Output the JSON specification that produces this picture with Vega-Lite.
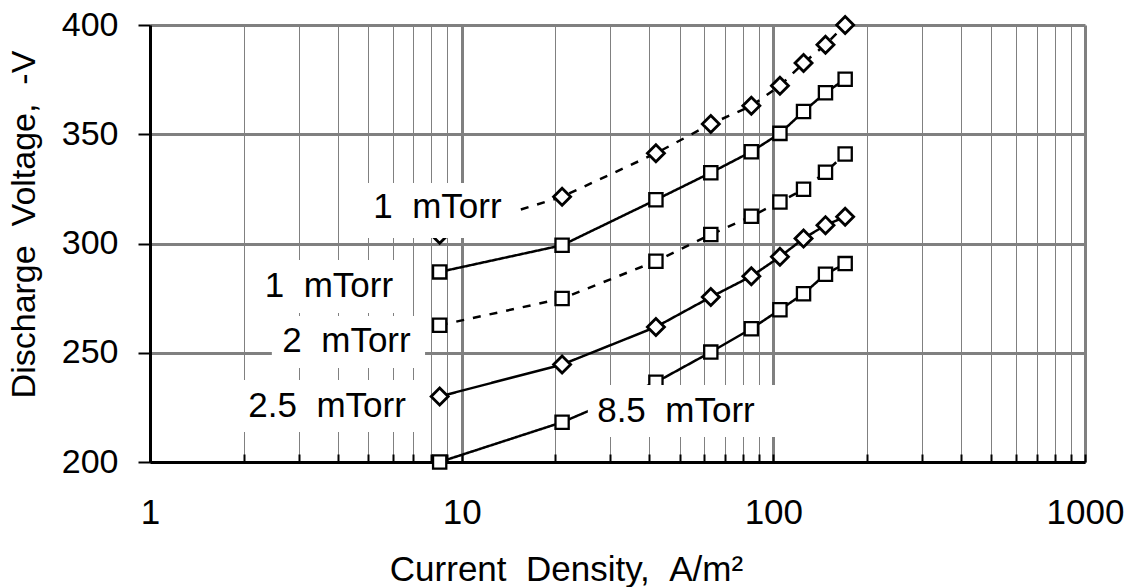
{
  "$schema": "https://vega.github.io/schema/vega-lite/v6.json",
  "width": 935,
  "height": 437,
  "autosize": {"type": "none"},
  "padding": {"left": 150, "top": 25, "right": 47, "bottom": 125},
  "background": "white",
  "config": {
    "view": {"stroke": null},
    "font": "Liberation Sans",
    "axis": {"labelColor": "black", "titleColor": "black", "titleFontWeight": "normal", "labelFont": "Liberation Sans", "titleFont": "Liberation Sans"}
  },
  "datasets": {
    "series": [
      {"series": "1 mTorr run A", "density": 8.5, "voltage": 304},
      {"series": "1 mTorr run A", "density": 21, "voltage": 321.4},
      {"series": "1 mTorr run A", "density": 42, "voltage": 341.3},
      {"series": "1 mTorr run A", "density": 63, "voltage": 354.7},
      {"series": "1 mTorr run A", "density": 85, "voltage": 363},
      {"series": "1 mTorr run A", "density": 105, "voltage": 372.2},
      {"series": "1 mTorr run A", "density": 125, "voltage": 382.6},
      {"series": "1 mTorr run A", "density": 147, "voltage": 391},
      {"series": "1 mTorr run A", "density": 170, "voltage": 400},
      {"series": "1 mTorr run B", "density": 8.5, "voltage": 287},
      {"series": "1 mTorr run B", "density": 21, "voltage": 299.2},
      {"series": "1 mTorr run B", "density": 42, "voltage": 320},
      {"series": "1 mTorr run B", "density": 63, "voltage": 332.4},
      {"series": "1 mTorr run B", "density": 85, "voltage": 342},
      {"series": "1 mTorr run B", "density": 105, "voltage": 350.4},
      {"series": "1 mTorr run B", "density": 125, "voltage": 360.4},
      {"series": "1 mTorr run B", "density": 147, "voltage": 369},
      {"series": "1 mTorr run B", "density": 170, "voltage": 375.2},
      {"series": "2 mTorr", "density": 8.5, "voltage": 262.6},
      {"series": "2 mTorr", "density": 21, "voltage": 274.8},
      {"series": "2 mTorr", "density": 42, "voltage": 291.9},
      {"series": "2 mTorr", "density": 63, "voltage": 304.1},
      {"series": "2 mTorr", "density": 85, "voltage": 312.5},
      {"series": "2 mTorr", "density": 105, "voltage": 319},
      {"series": "2 mTorr", "density": 125, "voltage": 324.8},
      {"series": "2 mTorr", "density": 147, "voltage": 332.6},
      {"series": "2 mTorr", "density": 170, "voltage": 341},
      {"series": "2.5 mTorr", "density": 8.5, "voltage": 230},
      {"series": "2.5 mTorr", "density": 21, "voltage": 244.6},
      {"series": "2.5 mTorr", "density": 42, "voltage": 261.8},
      {"series": "2.5 mTorr", "density": 63, "voltage": 275.5},
      {"series": "2.5 mTorr", "density": 85, "voltage": 285},
      {"series": "2.5 mTorr", "density": 105, "voltage": 293.9},
      {"series": "2.5 mTorr", "density": 125, "voltage": 302.3},
      {"series": "2.5 mTorr", "density": 147, "voltage": 308.4},
      {"series": "2.5 mTorr", "density": 170, "voltage": 312.2},
      {"series": "8.5 mTorr", "density": 8.5, "voltage": 200},
      {"series": "8.5 mTorr", "density": 21, "voltage": 218.2},
      {"series": "8.5 mTorr", "density": 42, "voltage": 236.5},
      {"series": "8.5 mTorr", "density": 63, "voltage": 250.3},
      {"series": "8.5 mTorr", "density": 85, "voltage": 261},
      {"series": "8.5 mTorr", "density": 105, "voltage": 269.7},
      {"series": "8.5 mTorr", "density": 125, "voltage": 277},
      {"series": "8.5 mTorr", "density": 147, "voltage": 285.9},
      {"series": "8.5 mTorr", "density": 170, "voltage": 290.8}
    ],
    "labels": [
      {"label": "1 \u00a0mTorr", "tx": 8.36, "ty": 311.5, "bx1": 4.79, "bx2": 14.8, "by1": 302.5, "by2": 327.7},
      {"label": "1 \u00a0mTorr", "tx": 3.75, "ty": 275.7, "bx1": 2.17, "bx2": 6.83, "by1": 268.2, "by2": 292.4},
      {"label": "2 \u00a0mTorr", "tx": 4.27, "ty": 250.2, "bx1": 2.46, "bx2": 7.63, "by1": 243.0, "by2": 266.8},
      {"label": "2.5 \u00a0mTorr", "tx": 3.70, "ty": 220.7, "bx1": 1.92, "bx2": 7.35, "by1": 213.7, "by2": 237.5},
      {"label": "8.5 \u00a0mTorr", "tx": 48.7, "ty": 218.4, "bx1": 25.4, "bx2": 108.9, "by1": 211.4, "by2": 235.2}
    ]
  },
  "layer": [
    {
      "data": {"name": "series"},
      "mark": {"type": "line", "color": "black", "strokeWidth": 2.5},
      "encoding": {
        "x": {
          "field": "density", "type": "quantitative",
          "title": "Current \u00a0Density, \u00a0A/m²",
          "scale": {"type": "log", "domain": [1, 1000], "nice": false},
          "axis": {
            "title": "Current \u00a0Density, \u00a0A/m²",
            "titleFontSize": 35,
            "titleX": 416, "titleY": 118, "titleAlign": "center", "titleBaseline": "alphabetic", "titleAnchor": null,
            "values": [1,2,3,4,5,6,7,8,9,10,20,30,40,50,60,70,80,90,100,200,300,400,500,600,700,800,900,1000],
            "labelExpr": "indexof([1,10,100,1000], datum.value) >= 0 ? format(datum.value, 'd') : ''",
            "labelFlush": false, "labelOverlap": false,
            "labelFontSize": 35, "labelBaseline": "alphabetic", "labelPadding": 69,
            "grid": true, "gridColor": "#808080",
            "gridWidth": {"condition": {"test": "datum.value == 10 || datum.value == 100 || datum.value == 1000", "value": 3}, "value": 1},
            "domainColor": "black", "domainWidth": 3,
            "ticks": true, "tickColor": "black", "tickSize": -8, "tickWidth": 2
          }
        },
        "y": {
          "field": "voltage", "type": "quantitative",
          "title": "Discharge \u00a0Voltage, \u00a0-V",
          "scale": {"domain": [200, 400], "nice": false, "zero": false},
          "axis": {
            "title": "Discharge \u00a0Voltage, \u00a0-V",
            "titleFontSize": 34,
            "titleX": -116, "titleY": 199, "titleAngle": -90, "titleAlign": "center", "titleBaseline": "alphabetic", "titleAnchor": null,
            "values": [200, 250, 300, 350, 400],
            "labelFontSize": 34, "labelPadding": 20,
            "grid": true, "gridColor": "#808080", "gridWidth": 3,
            "domainColor": "black", "domainWidth": 3,
            "tickColor": "black", "tickSize": 12, "tickWidth": 2
          }
        },
        "strokeDash": {
          "field": "series", "type": "nominal", "legend": null,
          "scale": {"domain": ["1 mTorr run A", "1 mTorr run B", "2 mTorr", "2.5 mTorr", "8.5 mTorr"], "range": [[8, 9], [1, 0], [8, 9], [1, 0], [1, 0]]}
        }
      }
    },
    {
      "data": {"name": "series"},
      "transform": [{"filter": "datum.series == '1 mTorr run A' || datum.series == '2.5 mTorr'"}],
      "mark": {"type": "point", "shape": "diamond", "size": 290, "filled": true, "fill": "white", "stroke": "black", "strokeWidth": 2.8, "opacity": 1, "clip": false},
      "encoding": {
        "x": {"field": "density", "type": "quantitative", "title": "Current \u00a0Density, \u00a0A/m²"},
        "y": {"field": "voltage", "type": "quantitative", "title": "Discharge \u00a0Voltage, \u00a0-V"}
      }
    },
    {
      "data": {"name": "series"},
      "transform": [{"filter": "datum.series != '1 mTorr run A' && datum.series != '2.5 mTorr'"}],
      "mark": {"type": "point", "shape": "square", "size": 175, "filled": true, "fill": "white", "stroke": "black", "strokeWidth": 2.3, "opacity": 1, "clip": false},
      "encoding": {
        "x": {"field": "density", "type": "quantitative", "title": "Current \u00a0Density, \u00a0A/m²"},
        "y": {"field": "voltage", "type": "quantitative", "title": "Discharge \u00a0Voltage, \u00a0-V"}
      }
    },
    {
      "data": {"name": "labels"},
      "mark": {"type": "rect", "fill": "white"},
      "encoding": {
        "x": {"field": "bx1", "type": "quantitative", "title": "Current \u00a0Density, \u00a0A/m²"},
        "x2": {"field": "bx2"},
        "y": {"field": "by1", "type": "quantitative", "title": "Discharge \u00a0Voltage, \u00a0-V"},
        "y2": {"field": "by2"}
      }
    },
    {
      "data": {"name": "labels"},
      "mark": {"type": "text", "font": "Liberation Sans", "fontSize": 35, "baseline": "alphabetic", "align": "center", "color": "black"},
      "encoding": {
        "x": {"field": "tx", "type": "quantitative", "title": "Current \u00a0Density, \u00a0A/m²"},
        "y": {"field": "ty", "type": "quantitative", "title": "Discharge \u00a0Voltage, \u00a0-V"},
        "text": {"field": "label"}
      }
    }
  ]
}
